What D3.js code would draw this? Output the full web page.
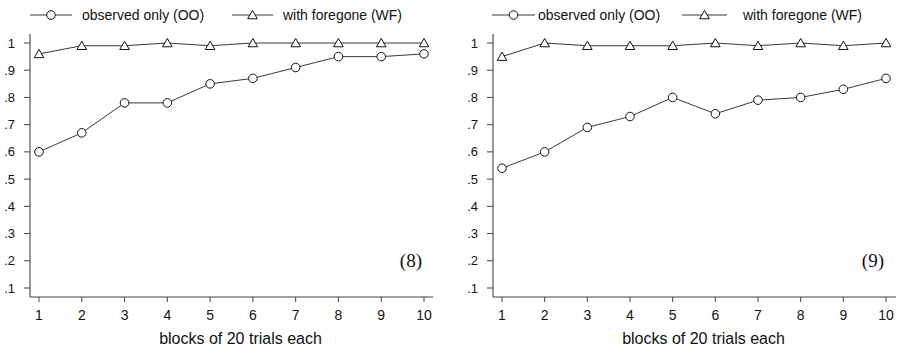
<!DOCTYPE html>
<html>
<head>
<meta charset="utf-8">
<script src="https://cdn.jsdelivr.net/npm/d3@7"></script>
<style>
body { margin: 0; background: #fff; }
svg text { font-family: "Liberation Sans", Arial, sans-serif; fill: #111; }
</style>
</head>
<body>
<div id="chart"></div>
<script>
const blocks = [1, 2, 3, 4, 5, 6, 7, 8, 9, 10];
const yTicks = [0.1, 0.2, 0.3, 0.4, 0.5, 0.6, 0.7, 0.8, 0.9, 1];
const seriesNames = ["observed only (OO)", "with foregone (WF)"];

const oo8 = [0.60, 0.67, 0.78, 0.78, 0.85, 0.87, 0.91, 0.95, 0.95, 0.96];
const wf8 = [0.96, 0.99, 0.99, 1.00, 0.99, 1.00, 1.00, 1.00, 1.00, 1.00];
const oo9 = [0.54, 0.60, 0.69, 0.73, 0.80, 0.74, 0.79, 0.80, 0.83, 0.87];
const wf9 = [0.95, 1.00, 0.99, 0.99, 0.99, 1.00, 0.99, 1.00, 0.99, 1.00];

const panelLabels = ["(8)", "(9)"];

const svg = d3.select("#chart")
  .append("svg")
  .attr("width", 900)
  .attr("height", 350);

const panels = [
  {left: 30, x1: 39, x10: 424, right: 433, oo: oo8, wf: wf8, label: panelLabels[0]},
  {left: 493, x1: 502, x10: 886, right: 896, oo: oo9, wf: wf9, label: panelLabels[1]}
];

const triangle = d3.symbol().type(d3.symbolTriangle).size(40);

panels.forEach(function(p) {
  const g = svg.append("g");

  const x = d3.scaleLinear().domain([1, 10]).range([p.x1, p.x10]);
  const y = d3.scaleLinear().domain([0.1, 1]).range([288, 43]);

  // axis lines
  g.append("line")
    .attr("x1", p.left).attr("x2", p.left)
    .attr("y1", 34).attr("y2", 297)
    .attr("stroke", "#444").attr("stroke-width", 1.1);
  g.append("line")
    .attr("x1", p.left).attr("x2", p.right)
    .attr("y1", 297).attr("y2", 297)
    .attr("stroke", "#444").attr("stroke-width", 1.1);

  // y ticks
  yTicks.forEach(function(t) {
    g.append("line")
      .attr("x1", p.left - 6).attr("x2", p.left)
      .attr("y1", y(t)).attr("y2", y(t))
      .attr("stroke", "#444");
    g.append("text")
      .attr("x", p.left - 15).attr("y", y(t) + 4.5)
      .attr("text-anchor", "end")
      .attr("font-size", 13)
      .text(t === 1 ? "1" : d3.format(".1f")(t).replace(/^0/, ""));
  });

  // x ticks
  blocks.forEach(function(b) {
    g.append("line")
      .attr("x1", x(b)).attr("x2", x(b))
      .attr("y1", 297).attr("y2", 302)
      .attr("stroke", "#444");
    g.append("text")
      .attr("x", x(b)).attr("y", 320)
      .attr("text-anchor", "middle")
      .attr("font-size", 14)
      .text(b);
  });

  g.append("text")
    .attr("x", (p.left + p.right) / 2 + 9).attr("y", 344)
    .attr("text-anchor", "middle")
    .attr("font-size", 16)
    .text("blocks of 20 trials each");

  const line = d3.line()
    .x((d, i) => x(blocks[i]))
    .y(d => y(d));

  g.append("path").datum(p.wf)
    .attr("d", line).attr("fill", "none")
    .attr("stroke", "#222").attr("stroke-width", 0.9);
  g.append("path").datum(p.oo)
    .attr("d", line).attr("fill", "none")
    .attr("stroke", "#222").attr("stroke-width", 0.9);

  g.selectAll(".oo").data(p.oo).enter()
    .append("circle")
    .attr("cx", (d, i) => x(blocks[i]))
    .attr("cy", d => y(d))
    .attr("r", 4.3)
    .attr("fill", "#fff")
    .attr("stroke", "#111")
    .attr("stroke-width", 1);

  g.selectAll(".wf").data(p.wf).enter()
    .append("path")
    .attr("d", triangle)
    .attr("transform", (d, i) => "translate(" + x(blocks[i]) + "," + (y(d) + 1) + ")")
    .attr("fill", "#fff")
    .attr("stroke", "#111")
    .attr("stroke-width", 1);

  g.append("text")
    .attr("x", x(10) - 2).attr("y", 267)
    .attr("text-anchor", "end")
    .style("font-family", "'Liberation Serif', 'Times New Roman', serif")
    .attr("font-size", 19)
    .text(p.label);
});

// legends
const legends = [
  {items: [{x1: 30, x2: 72, tx: 82}, {x1: 232, x2: 273, tx: 283}]},
  {items: [{x1: 492, x2: 535, tx: 538}, {x1: 682, x2: 727, tx: 743}]}
];

legends.forEach(function(l) {
  l.items.forEach(function(it, k) {
    const ly = 15;
    svg.append("line")
      .attr("x1", it.x1).attr("x2", it.x2)
      .attr("y1", ly).attr("y2", ly)
      .attr("stroke", "#222").attr("stroke-width", 0.9);
    const cx = (it.x1 + it.x2) / 2;
    if (k === 0) {
      svg.append("circle")
        .attr("cx", cx).attr("cy", ly).attr("r", 4.3)
        .attr("fill", "#fff").attr("stroke", "#111").attr("stroke-width", 1);
    } else {
      svg.append("path")
        .attr("d", triangle)
        .attr("transform", "translate(" + cx + "," + (ly + 1) + ")")
        .attr("fill", "#fff").attr("stroke", "#111").attr("stroke-width", 1);
    }
    svg.append("text")
      .attr("x", it.tx).attr("y", ly + 5)
      .attr("font-size", 14)
      .text(seriesNames[k]);
  });
});
</script>
</body>
</html>
